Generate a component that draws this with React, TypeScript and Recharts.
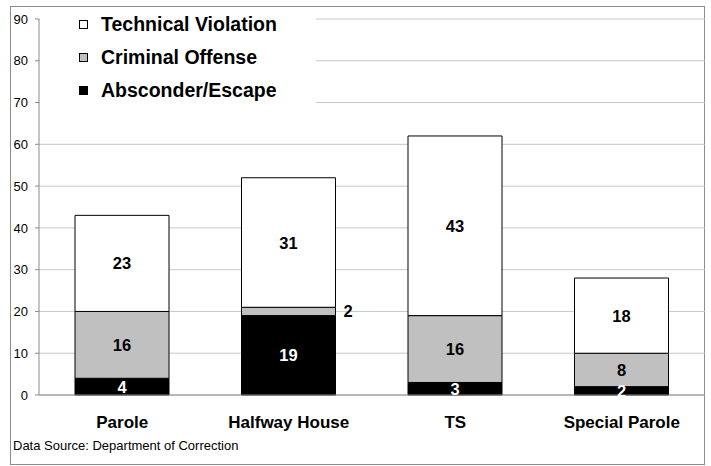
import React from 'react';
import { BarChart, Bar, XAxis, YAxis, CartesianGrid, Legend, LabelList } from 'recharts';

const categories = ['Parole', 'Halfway House', 'TS', 'Special Parole'];
const absconder = [4, 19, 3, 2];
const criminal = [16, 2, 16, 8];
const technical = [23, 31, 43, 18];
const yTicks = [0, 10, 20, 30, 40, 50, 60, 70, 80, 90];
const boundaryTicks = [0, 1, 2, 3, 4];

const series = [
  { key: 'absconder', name: 'Absconder/Escape', fill: '#000000', labelColor: '#ffffff' },
  { key: 'criminal', name: 'Criminal Offense', fill: '#c0c0c0', labelColor: '#000000' },
  { key: 'technical', name: 'Technical Violation', fill: '#ffffff', labelColor: '#000000' },
];

const data = categories.map((c, i) => ({
  name: c,
  absconder: absconder[i],
  criminal: criminal[i],
  technical: technical[i],
}));

const FONT = '"Liberation Sans", Arial, sans-serif';

const makeLabel = (key: string, color: string) => (props: any) => {
  const { x, y, width, height, value } = props;
  const outside = key === 'criminal' && Number(value) <= 2;
  const cx = outside ? Number(x) + Number(width) + 8 : Number(x) + Number(width) / 2;
  const cy = Number(y) + Number(height) / 2;
  return (
    <text
      x={cx}
      y={cy}
      textAnchor={outside ? 'start' : 'middle'}
      dominantBaseline="central"
      fill={outside ? '#000' : color}
      fontFamily={FONT}
      fontWeight="bold"
      fontSize={16.5}
    >
      {value}
    </text>
  );
};

const renderLegend = () => {
  const items = [...series].reverse();
  return (
    <div style={{ width: '100%', height: '100%', background: '#fff', paddingTop: 0.5, boxSizing: 'border-box' }}>
      {items.map((s) => (
        <div
          key={s.key}
          style={{ height: 33, display: 'flex', alignItems: 'center', fontFamily: FONT, fontWeight: 'bold', fontSize: 19.5, color: '#000' }}
        >
          <span
            style={{
              display: 'inline-block',
              width: 9,
              height: 9,
              marginLeft: 39,
              marginRight: 13,
              background: s.fill,
              border: '1px solid #000',
              boxSizing: 'border-box',
            }}
          />
          <span>{s.name}</span>
        </div>
      ))}
    </div>
  );
};

export default function App() {
  return (
    <div style={{ position: 'absolute', left: 0, top: 0, width: 711, height: 466, background: '#fff' }}>
      <div
        style={{
          position: 'absolute',
          left: 10,
          top: 6,
          width: 695,
          height: 459,
          border: '1px solid #8c8c8c',
          boxSizing: 'border-box',
        }}
      />
      <div style={{ position: 'absolute', left: 0, top: 0 }}>
        <BarChart
          width={711}
          height={466}
          data={data}
          margin={{ top: 19, right: 6, bottom: 31, left: 10 }}
          barSize={94}
        >
          <CartesianGrid vertical={false} stroke="#c8c8c8" />
          <XAxis
            xAxisId="b"
            type="number"
            domain={[0, 4]}
            ticks={boundaryTicks}
            height={0}
            axisLine={false}
            tickSize={5}
            tickLine={{ stroke: '#8c8c8c' }}
            tickFormatter={() => ''}
          />
          <XAxis
            xAxisId="cat"
            dataKey="name"
            height={40}
            tickLine={false}
            tickSize={0}
            tickMargin={21}
            axisLine={{ stroke: '#8c8c8c' }}
            tick={{ fontFamily: FONT, fontWeight: 'bold', fontSize: 17, fill: '#000' }}
            interval={0}
          />
          <YAxis
            domain={[0, 90]}
            ticks={yTicks}
            width={29}
            tickSize={4}
            tickMargin={7}
            axisLine={{ stroke: '#8c8c8c' }}
            tickLine={{ stroke: '#8c8c8c' }}
            tick={{ fontFamily: FONT, fontSize: 13, fill: '#000' }}
            interval={0}
          />
          <Legend
            layout="vertical"
            align="center"
            verticalAlign="middle"
            wrapperStyle={{ left: 40, top: 7, width: 276, height: 100 }}
            content={renderLegend}
          />
          {series.map((s) => (
            <Bar
              key={s.key}
              xAxisId="cat"
              dataKey={s.key}
              name={s.name}
              stackId="a"
              fill={s.fill}
              stroke="#000"
              strokeWidth={1}
              isAnimationActive={false}
            >
              <LabelList dataKey={s.key} content={makeLabel(s.key, s.labelColor)} />
            </Bar>
          ))}
        </BarChart>
      </div>
      <div
        style={{
          position: 'absolute',
          left: 13,
          top: 438,
          fontFamily: FONT,
          fontSize: 13,
          color: '#000',
          whiteSpace: 'nowrap',
        }}
      >
        Data Source: Department of Correction
      </div>
    </div>
  );
}
